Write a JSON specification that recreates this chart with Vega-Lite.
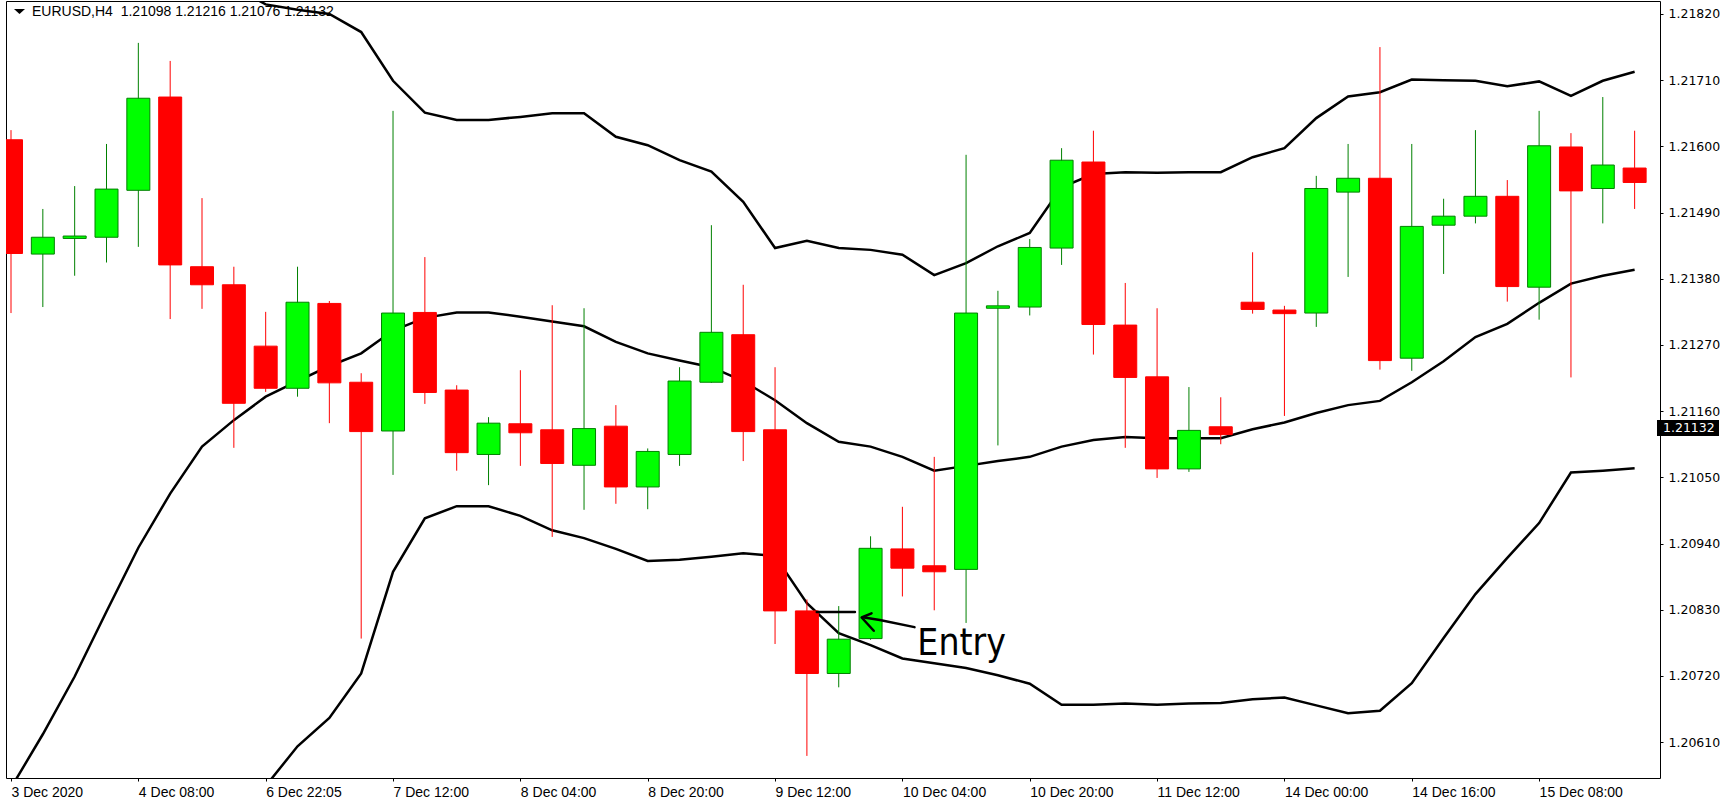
{
  "$schema": "https://vega.github.io/schema/vega-lite/v6.json",
  "width": 1654,
  "height": 777,
  "autosize": {"type": "none"},
  "padding": {"left": 6, "top": 1, "right": 73, "bottom": 32},
  "background": "white",
  "config": {
    "view": {"stroke": "#000000", "strokeWidth": 1},
    "axisX": {"labelAlign": "left", "labelBaseline": "top", "labelPadding": 4, "labelFont": "Liberation Sans", "labelFontSize": 14, "labelColor": "#000000", "tickSize": 3, "tickColor": "#000000", "domain": false, "grid": false, "labelFlush": false, "labelOverlap": false},
    "axisY": {"labelFont": "DejaVu Sans", "labelFontSize": 12.5, "labelColor": "#000000", "labelPadding": 5, "tickSize": 3, "tickColor": "#000000", "domain": false, "grid": false, "labelFlush": false, "labelOverlap": false}
  },
  "datasets": {
    "candles": [
      {"i":0,"o":1.21611,"h":1.21627,"l":1.21323,"c":1.21422,"d":"down"},
      {"i":1,"o":1.21421,"h":1.21496,"l":1.21333,"c":1.21449,"d":"up"},
      {"i":2,"o":1.21447,"h":1.21534,"l":1.21385,"c":1.21451,"d":"up"},
      {"i":3,"o":1.21449,"h":1.21604,"l":1.21407,"c":1.21529,"d":"up"},
      {"i":4,"o":1.21527,"h":1.21772,"l":1.21433,"c":1.21680,"d":"up"},
      {"i":5,"o":1.21682,"h":1.21742,"l":1.21313,"c":1.21403,"d":"down"},
      {"i":6,"o":1.21400,"h":1.21514,"l":1.21330,"c":1.21370,"d":"down"},
      {"i":7,"o":1.21370,"h":1.21400,"l":1.21099,"c":1.21173,"d":"down"},
      {"i":8,"o":1.21268,"h":1.21325,"l":1.21192,"c":1.21198,"d":"down"},
      {"i":9,"o":1.21198,"h":1.21400,"l":1.21184,"c":1.21341,"d":"up"},
      {"i":10,"o":1.21339,"h":1.21343,"l":1.21140,"c":1.21207,"d":"down"},
      {"i":11,"o":1.21208,"h":1.21223,"l":1.20782,"c":1.21126,"d":"down"},
      {"i":12,"o":1.21127,"h":1.21659,"l":1.21054,"c":1.21323,"d":"up"},
      {"i":13,"o":1.21324,"h":1.21416,"l":1.21172,"c":1.21191,"d":"down"},
      {"i":14,"o":1.21195,"h":1.21203,"l":1.21061,"c":1.21091,"d":"down"},
      {"i":15,"o":1.21088,"h":1.21150,"l":1.21037,"c":1.21140,"d":"up"},
      {"i":16,"o":1.21139,"h":1.21228,"l":1.21069,"c":1.21124,"d":"down"},
      {"i":17,"o":1.21129,"h":1.21336,"l":1.20951,"c":1.21073,"d":"down"},
      {"i":18,"o":1.21070,"h":1.21331,"l":1.20996,"c":1.21131,"d":"up"},
      {"i":19,"o":1.21135,"h":1.21170,"l":1.21006,"c":1.21034,"d":"down"},
      {"i":20,"o":1.21034,"h":1.21098,"l":1.20997,"c":1.21093,"d":"up"},
      {"i":21,"o":1.21088,"h":1.21233,"l":1.21069,"c":1.21210,"d":"up"},
      {"i":22,"o":1.21208,"h":1.21469,"l":1.21207,"c":1.21291,"d":"up"},
      {"i":23,"o":1.21287,"h":1.21370,"l":1.21077,"c":1.21126,"d":"down"},
      {"i":24,"o":1.21129,"h":1.21233,"l":1.20773,"c":1.20828,"d":"down"},
      {"i":25,"o":1.20828,"h":1.20847,"l":1.20587,"c":1.20724,"d":"down"},
      {"i":26,"o":1.20724,"h":1.20836,"l":1.20701,"c":1.20781,"d":"up"},
      {"i":27,"o":1.20782,"h":1.20952,"l":1.20780,"c":1.20932,"d":"up"},
      {"i":28,"o":1.20931,"h":1.21001,"l":1.20852,"c":1.20899,"d":"down"},
      {"i":29,"o":1.20903,"h":1.21084,"l":1.20829,"c":1.20893,"d":"down"},
      {"i":30,"o":1.20897,"h":1.21586,"l":1.20808,"c":1.21323,"d":"up"},
      {"i":31,"o":1.21331,"h":1.21360,"l":1.21103,"c":1.21335,"d":"up"},
      {"i":32,"o":1.21333,"h":1.21446,"l":1.21319,"c":1.21432,"d":"up"},
      {"i":33,"o":1.21431,"h":1.21597,"l":1.21403,"c":1.21577,"d":"up"},
      {"i":34,"o":1.21574,"h":1.21626,"l":1.21254,"c":1.21304,"d":"down"},
      {"i":35,"o":1.21303,"h":1.21373,"l":1.21099,"c":1.21216,"d":"down"},
      {"i":36,"o":1.21217,"h":1.21331,"l":1.21049,"c":1.21064,"d":"down"},
      {"i":37,"o":1.21064,"h":1.21200,"l":1.21059,"c":1.21128,"d":"up"},
      {"i":38,"o":1.21134,"h":1.21183,"l":1.21105,"c":1.21121,"d":"down"},
      {"i":39,"o":1.21341,"h":1.21424,"l":1.21322,"c":1.21329,"d":"down"},
      {"i":40,"o":1.21328,"h":1.21335,"l":1.21152,"c":1.21322,"d":"down"},
      {"i":41,"o":1.21323,"h":1.21551,"l":1.21300,"c":1.21530,"d":"up"},
      {"i":42,"o":1.21524,"h":1.21604,"l":1.21383,"c":1.21547,"d":"up"},
      {"i":43,"o":1.21547,"h":1.21765,"l":1.21229,"c":1.21244,"d":"down"},
      {"i":44,"o":1.21248,"h":1.21604,"l":1.21227,"c":1.21467,"d":"up"},
      {"i":45,"o":1.21469,"h":1.21513,"l":1.21388,"c":1.21484,"d":"up"},
      {"i":46,"o":1.21484,"h":1.21627,"l":1.21472,"c":1.21517,"d":"up"},
      {"i":47,"o":1.21517,"h":1.21544,"l":1.21342,"c":1.21367,"d":"down"},
      {"i":48,"o":1.21366,"h":1.21659,"l":1.21312,"c":1.21601,"d":"up"},
      {"i":49,"o":1.21599,"h":1.21622,"l":1.21216,"c":1.21526,"d":"down"},
      {"i":50,"o":1.21530,"h":1.21682,"l":1.21472,"c":1.21569,"d":"up"},
      {"i":51,"o":1.21564,"h":1.21626,"l":1.21496,"c":1.21540,"d":"down"}
    ],
    "bands": [
      {"i":0,"up":null,"mid":1.20534,"lo":null},
      {"i":1,"up":null,"mid":1.20623,"lo":null},
      {"i":2,"up":null,"mid":1.20719,"lo":null},
      {"i":3,"up":null,"mid":1.20827,"lo":null},
      {"i":4,"up":null,"mid":1.20933,"lo":null},
      {"i":5,"up":null,"mid":1.21023,"lo":null},
      {"i":6,"up":null,"mid":1.21101,"lo":null},
      {"i":7,"up":1.21865,"mid":1.21145,"lo":null},
      {"i":8,"up":1.21836,"mid":1.21184,"lo":1.20537},
      {"i":9,"up":1.21827,"mid":1.21210,"lo":1.20603},
      {"i":10,"up":1.21820,"mid":1.21235,"lo":1.20650},
      {"i":11,"up":1.21790,"mid":1.21256,"lo":1.20724},
      {"i":12,"up":1.21709,"mid":1.21294,"lo":1.20893},
      {"i":13,"up":1.21656,"mid":1.21315,"lo":1.20982},
      {"i":14,"up":1.21644,"mid":1.21324,"lo":1.21002},
      {"i":15,"up":1.21644,"mid":1.21324,"lo":1.21002},
      {"i":16,"up":1.21649,"mid":1.21317,"lo":1.20986},
      {"i":17,"up":1.21655,"mid":1.21309,"lo":1.20962},
      {"i":18,"up":1.21655,"mid":1.21301,"lo":1.20949},
      {"i":19,"up":1.21616,"mid":1.21275,"lo":1.20931},
      {"i":20,"up":1.21602,"mid":1.21256,"lo":1.20911},
      {"i":21,"up":1.21577,"mid":1.21244,"lo":1.20913},
      {"i":22,"up":1.21558,"mid":1.21233,"lo":1.20918},
      {"i":23,"up":1.21508,"mid":1.21210,"lo":1.20924},
      {"i":24,"up":1.21431,"mid":1.21178,"lo":1.20919},
      {"i":25,"up":1.21443,"mid":1.21140,"lo":1.20841},
      {"i":26,"up":1.21431,"mid":1.21109,"lo":1.20791},
      {"i":27,"up":1.21428,"mid":1.21101,"lo":1.20771},
      {"i":28,"up":1.21420,"mid":1.21084,"lo":1.20749},
      {"i":29,"up":1.21386,"mid":1.21061,"lo":1.20741},
      {"i":30,"up":1.21406,"mid":1.21069,"lo":1.20733},
      {"i":31,"up":1.21434,"mid":1.21077,"lo":1.20721},
      {"i":32,"up":1.21456,"mid":1.21084,"lo":1.20707},
      {"i":33,"up":1.21532,"mid":1.21101,"lo":1.20672},
      {"i":34,"up":1.21554,"mid":1.21112,"lo":1.20672},
      {"i":35,"up":1.21557,"mid":1.21117,"lo":1.20674},
      {"i":36,"up":1.21556,"mid":1.21115,"lo":1.20672},
      {"i":37,"up":1.21557,"mid":1.21115,"lo":1.20674},
      {"i":38,"up":1.21557,"mid":1.21115,"lo":1.20675},
      {"i":39,"up":1.21582,"mid":1.21130,"lo":1.20681},
      {"i":40,"up":1.21597,"mid":1.21141,"lo":1.20684},
      {"i":41,"up":1.21647,"mid":1.21157,"lo":1.20671},
      {"i":42,"up":1.21683,"mid":1.21170,"lo":1.20658},
      {"i":43,"up":1.21690,"mid":1.21177,"lo":1.20662},
      {"i":44,"up":1.21711,"mid":1.21208,"lo":1.20708},
      {"i":45,"up":1.21710,"mid":1.21243,"lo":1.20783},
      {"i":46,"up":1.21709,"mid":1.21283,"lo":1.20856},
      {"i":47,"up":1.21700,"mid":1.21305,"lo":1.20916},
      {"i":48,"up":1.21708,"mid":1.21340,"lo":1.20974},
      {"i":49,"up":1.21684,"mid":1.21372,"lo":1.21058},
      {"i":50,"up":1.21709,"mid":1.21385,"lo":1.21061},
      {"i":51,"up":1.21724,"mid":1.21395,"lo":1.21065}
    ],
    "entry": [
      {"s":"level","k":0,"i":25.31,"p":1.20826},
      {"s":"level","k":1,"i":26.51,"p":1.20826},
      {"s":"shaft","k":0,"i":26.80,"p":1.20817},
      {"s":"shaft","k":1,"i":27.29,"p":1.20813},
      {"s":"shaft","k":2,"i":28.38,"p":1.20801},
      {"s":"head","k":0,"i":27.03,"p":1.20824},
      {"s":"head","k":1,"i":26.72,"p":1.20817},
      {"s":"head","k":2,"i":27.10,"p":1.20795}
    ],
    "notes": [{"i":28.47,"p":1.20755,"t":"Entry"}],
    "header": [{"i":0,"p":1.218416,"t":"EURUSD,H4\u00a0 1.21098 1.21216 1.21076 1.21132"}],
    "last": [{"i":51.64,"p":1.21132,"t":"1.21132"}]
  },
  "layer": [
    {
      "data": {"name": "bands"},
      "mark": {"type": "line", "color": "#000000", "strokeWidth": 2.5, "clip": true},
      "encoding": {
        "x": {"field": "i", "type": "quantitative", "title": null, "scale": {"domain": [0, 51.64], "nice": false, "zero": false}, "axis": {"values": [0, 4, 8, 12, 16, 20, 24, 28, 32, 36, 40, 44, 48], "labelExpr": "['3 Dec 2020','4 Dec 08:00','6 Dec 22:05','7 Dec 12:00','8 Dec 04:00','8 Dec 20:00','9 Dec 12:00','10 Dec 04:00','10 Dec 20:00','11 Dec 12:00','14 Dec 00:00','14 Dec 16:00','15 Dec 08:00'][round(datum.value / 4)]", "orient": "bottom", "title": null}},
        "y": {"field": "up", "type": "quantitative", "title": null, "scale": {"domain": [1.205503, 1.218416], "nice": false, "zero": false}, "axis": {"orient": "right", "values": [1.2061, 1.2072, 1.2083, 1.2094, 1.2105, 1.2116, 1.2127, 1.2138, 1.2149, 1.2160, 1.2171, 1.2182], "format": ".5f", "title": null}}
      }
    },
    {
      "data": {"name": "bands"},
      "mark": {"type": "line", "color": "#000000", "strokeWidth": 2.5, "clip": true},
      "encoding": {
        "x": {"field": "i", "type": "quantitative", "title": null, "scale": {"domain": [0, 51.64], "nice": false, "zero": false}, "axis": {"values": [0, 4, 8, 12, 16, 20, 24, 28, 32, 36, 40, 44, 48], "labelExpr": "['3 Dec 2020','4 Dec 08:00','6 Dec 22:05','7 Dec 12:00','8 Dec 04:00','8 Dec 20:00','9 Dec 12:00','10 Dec 04:00','10 Dec 20:00','11 Dec 12:00','14 Dec 00:00','14 Dec 16:00','15 Dec 08:00'][round(datum.value / 4)]", "orient": "bottom", "title": null}},
        "y": {"field": "mid", "type": "quantitative", "title": null, "scale": {"domain": [1.205503, 1.218416], "nice": false, "zero": false}, "axis": {"orient": "right", "values": [1.2061, 1.2072, 1.2083, 1.2094, 1.2105, 1.2116, 1.2127, 1.2138, 1.2149, 1.2160, 1.2171, 1.2182], "format": ".5f", "title": null}}
      }
    },
    {
      "data": {"name": "bands"},
      "mark": {"type": "line", "color": "#000000", "strokeWidth": 2.5, "clip": true},
      "encoding": {
        "x": {"field": "i", "type": "quantitative", "title": null, "scale": {"domain": [0, 51.64], "nice": false, "zero": false}, "axis": {"values": [0, 4, 8, 12, 16, 20, 24, 28, 32, 36, 40, 44, 48], "labelExpr": "['3 Dec 2020','4 Dec 08:00','6 Dec 22:05','7 Dec 12:00','8 Dec 04:00','8 Dec 20:00','9 Dec 12:00','10 Dec 04:00','10 Dec 20:00','11 Dec 12:00','14 Dec 00:00','14 Dec 16:00','15 Dec 08:00'][round(datum.value / 4)]", "orient": "bottom", "title": null}},
        "y": {"field": "lo", "type": "quantitative", "title": null, "scale": {"domain": [1.205503, 1.218416], "nice": false, "zero": false}, "axis": {"orient": "right", "values": [1.2061, 1.2072, 1.2083, 1.2094, 1.2105, 1.2116, 1.2127, 1.2138, 1.2149, 1.2160, 1.2171, 1.2182], "format": ".5f", "title": null}}
      }
    },
    {
      "data": {"name": "candles"},
      "mark": {"type": "rule", "strokeWidth": 1, "clip": true},
      "encoding": {
        "x": {"field": "i", "type": "quantitative", "title": null, "scale": {"domain": [0, 51.64], "nice": false, "zero": false}, "axis": {"values": [0, 4, 8, 12, 16, 20, 24, 28, 32, 36, 40, 44, 48], "labelExpr": "['3 Dec 2020','4 Dec 08:00','6 Dec 22:05','7 Dec 12:00','8 Dec 04:00','8 Dec 20:00','9 Dec 12:00','10 Dec 04:00','10 Dec 20:00','11 Dec 12:00','14 Dec 00:00','14 Dec 16:00','15 Dec 08:00'][round(datum.value / 4)]", "orient": "bottom", "title": null}},
        "y": {"field": "l", "type": "quantitative", "title": null, "scale": {"domain": [1.205503, 1.218416], "nice": false, "zero": false}, "axis": {"orient": "right", "values": [1.2061, 1.2072, 1.2083, 1.2094, 1.2105, 1.2116, 1.2127, 1.2138, 1.2149, 1.2160, 1.2171, 1.2182], "format": ".5f", "title": null}},
        "y2": {"field": "h"},
        "stroke": {"field": "d", "type": "nominal", "scale": {"domain": ["up", "down"], "range": ["#008000", "#ff0000"]}, "legend": null}
      }
    },
    {
      "data": {"name": "candles"},
      "mark": {"type": "bar", "width": 23, "strokeWidth": 1, "opacity": 1, "fillOpacity": 1, "clip": true},
      "encoding": {
        "x": {"field": "i", "type": "quantitative", "title": null, "scale": {"domain": [0, 51.64], "nice": false, "zero": false}, "axis": {"values": [0, 4, 8, 12, 16, 20, 24, 28, 32, 36, 40, 44, 48], "labelExpr": "['3 Dec 2020','4 Dec 08:00','6 Dec 22:05','7 Dec 12:00','8 Dec 04:00','8 Dec 20:00','9 Dec 12:00','10 Dec 04:00','10 Dec 20:00','11 Dec 12:00','14 Dec 00:00','14 Dec 16:00','15 Dec 08:00'][round(datum.value / 4)]", "orient": "bottom", "title": null}},
        "y": {"field": "o", "type": "quantitative", "title": null, "scale": {"domain": [1.205503, 1.218416], "nice": false, "zero": false}, "axis": {"orient": "right", "values": [1.2061, 1.2072, 1.2083, 1.2094, 1.2105, 1.2116, 1.2127, 1.2138, 1.2149, 1.2160, 1.2171, 1.2182], "format": ".5f", "title": null}},
        "y2": {"field": "c"},
        "fill": {"field": "d", "type": "nominal", "scale": {"domain": ["up", "down"], "range": ["#00ff00", "#ff0000"]}, "legend": null},
        "stroke": {"field": "d", "type": "nominal", "scale": {"domain": ["up", "down"], "range": ["#008000", "#ff0000"]}, "legend": null}
      }
    },
    {
      "data": {"name": "entry"},
      "mark": {"type": "line", "color": "#000000", "strokeWidth": 2.5, "strokeCap": "round", "strokeJoin": "round", "clip": true},
      "encoding": {
        "x": {"field": "i", "type": "quantitative", "title": null, "scale": {"domain": [0, 51.64], "nice": false, "zero": false}, "axis": {"values": [0, 4, 8, 12, 16, 20, 24, 28, 32, 36, 40, 44, 48], "labelExpr": "['3 Dec 2020','4 Dec 08:00','6 Dec 22:05','7 Dec 12:00','8 Dec 04:00','8 Dec 20:00','9 Dec 12:00','10 Dec 04:00','10 Dec 20:00','11 Dec 12:00','14 Dec 00:00','14 Dec 16:00','15 Dec 08:00'][round(datum.value / 4)]", "orient": "bottom", "title": null}},
        "y": {"field": "p", "type": "quantitative", "title": null, "scale": {"domain": [1.205503, 1.218416], "nice": false, "zero": false}, "axis": {"orient": "right", "values": [1.2061, 1.2072, 1.2083, 1.2094, 1.2105, 1.2116, 1.2127, 1.2138, 1.2149, 1.2160, 1.2171, 1.2182], "format": ".5f", "title": null}},
        "detail": {"field": "s"},
        "order": {"field": "k"}
      }
    },
    {
      "data": {"name": "notes"},
      "mark": {"type": "text", "align": "left", "baseline": "alphabetic", "font": "DejaVu Sans Condensed, DejaVu Sans", "fontSize": 37, "color": "#000000"},
      "encoding": {
        "x": {"field": "i", "type": "quantitative", "title": null, "scale": {"domain": [0, 51.64], "nice": false, "zero": false}, "axis": {"values": [0, 4, 8, 12, 16, 20, 24, 28, 32, 36, 40, 44, 48], "labelExpr": "['3 Dec 2020','4 Dec 08:00','6 Dec 22:05','7 Dec 12:00','8 Dec 04:00','8 Dec 20:00','9 Dec 12:00','10 Dec 04:00','10 Dec 20:00','11 Dec 12:00','14 Dec 00:00','14 Dec 16:00','15 Dec 08:00'][round(datum.value / 4)]", "orient": "bottom", "title": null}},
        "y": {"field": "p", "type": "quantitative", "title": null, "scale": {"domain": [1.205503, 1.218416], "nice": false, "zero": false}, "axis": {"orient": "right", "values": [1.2061, 1.2072, 1.2083, 1.2094, 1.2105, 1.2116, 1.2127, 1.2138, 1.2149, 1.2160, 1.2171, 1.2182], "format": ".5f", "title": null}},
        "text": {"field": "t"}
      }
    },
    {
      "data": {"name": "header"},
      "mark": {"type": "text", "align": "left", "baseline": "middle", "dx": 21, "dy": 11, "font": "Liberation Sans", "fontSize": 14, "color": "#000000"},
      "encoding": {
        "x": {"field": "i", "type": "quantitative", "title": null, "scale": {"domain": [0, 51.64], "nice": false, "zero": false}, "axis": {"values": [0, 4, 8, 12, 16, 20, 24, 28, 32, 36, 40, 44, 48], "labelExpr": "['3 Dec 2020','4 Dec 08:00','6 Dec 22:05','7 Dec 12:00','8 Dec 04:00','8 Dec 20:00','9 Dec 12:00','10 Dec 04:00','10 Dec 20:00','11 Dec 12:00','14 Dec 00:00','14 Dec 16:00','15 Dec 08:00'][round(datum.value / 4)]", "orient": "bottom", "title": null}},
        "y": {"field": "p", "type": "quantitative", "title": null, "scale": {"domain": [1.205503, 1.218416], "nice": false, "zero": false}, "axis": {"orient": "right", "values": [1.2061, 1.2072, 1.2083, 1.2094, 1.2105, 1.2116, 1.2127, 1.2138, 1.2149, 1.2160, 1.2171, 1.2182], "format": ".5f", "title": null}},
        "text": {"field": "t"}
      }
    },
    {
      "data": {"name": "header"},
      "mark": {"type": "point", "shape": "M-1,-0.45L1,-0.45L0,0.45Z", "size": 121, "filled": true, "color": "#000000", "opacity": 1, "xOffset": 8.5, "yOffset": 10.5},
      "encoding": {
        "x": {"field": "i", "type": "quantitative", "title": null, "scale": {"domain": [0, 51.64], "nice": false, "zero": false}, "axis": {"values": [0, 4, 8, 12, 16, 20, 24, 28, 32, 36, 40, 44, 48], "labelExpr": "['3 Dec 2020','4 Dec 08:00','6 Dec 22:05','7 Dec 12:00','8 Dec 04:00','8 Dec 20:00','9 Dec 12:00','10 Dec 04:00','10 Dec 20:00','11 Dec 12:00','14 Dec 00:00','14 Dec 16:00','15 Dec 08:00'][round(datum.value / 4)]", "orient": "bottom", "title": null}},
        "y": {"field": "p", "type": "quantitative", "title": null, "scale": {"domain": [1.205503, 1.218416], "nice": false, "zero": false}, "axis": {"orient": "right", "values": [1.2061, 1.2072, 1.2083, 1.2094, 1.2105, 1.2116, 1.2127, 1.2138, 1.2149, 1.2160, 1.2171, 1.2182], "format": ".5f", "title": null}}
      }
    },
    {
      "data": {"name": "last"},
      "mark": {"type": "rect", "color": "#000000", "clip": false, "xOffset": 2, "x2Offset": 64, "yOffset": -8, "y2Offset": 8},
      "encoding": {
        "x": {"field": "i", "type": "quantitative", "title": null, "scale": {"domain": [0, 51.64], "nice": false, "zero": false}, "axis": {"values": [0, 4, 8, 12, 16, 20, 24, 28, 32, 36, 40, 44, 48], "labelExpr": "['3 Dec 2020','4 Dec 08:00','6 Dec 22:05','7 Dec 12:00','8 Dec 04:00','8 Dec 20:00','9 Dec 12:00','10 Dec 04:00','10 Dec 20:00','11 Dec 12:00','14 Dec 00:00','14 Dec 16:00','15 Dec 08:00'][round(datum.value / 4)]", "orient": "bottom", "title": null}},
        "x2": {"field": "i"},
        "y": {"field": "p", "type": "quantitative", "title": null, "scale": {"domain": [1.205503, 1.218416], "nice": false, "zero": false}, "axis": {"orient": "right", "values": [1.2061, 1.2072, 1.2083, 1.2094, 1.2105, 1.2116, 1.2127, 1.2138, 1.2149, 1.2160, 1.2171, 1.2182], "format": ".5f", "title": null}},
        "y2": {"field": "p"}
      }
    },
    {
      "data": {"name": "last"},
      "mark": {"type": "text", "align": "left", "baseline": "middle", "dx": 8, "font": "DejaVu Sans", "fontSize": 12.5, "color": "#ffffff", "clip": false},
      "encoding": {
        "x": {"field": "i", "type": "quantitative", "title": null, "scale": {"domain": [0, 51.64], "nice": false, "zero": false}, "axis": {"values": [0, 4, 8, 12, 16, 20, 24, 28, 32, 36, 40, 44, 48], "labelExpr": "['3 Dec 2020','4 Dec 08:00','6 Dec 22:05','7 Dec 12:00','8 Dec 04:00','8 Dec 20:00','9 Dec 12:00','10 Dec 04:00','10 Dec 20:00','11 Dec 12:00','14 Dec 00:00','14 Dec 16:00','15 Dec 08:00'][round(datum.value / 4)]", "orient": "bottom", "title": null}},
        "y": {"field": "p", "type": "quantitative", "title": null, "scale": {"domain": [1.205503, 1.218416], "nice": false, "zero": false}, "axis": {"orient": "right", "values": [1.2061, 1.2072, 1.2083, 1.2094, 1.2105, 1.2116, 1.2127, 1.2138, 1.2149, 1.2160, 1.2171, 1.2182], "format": ".5f", "title": null}},
        "text": {"field": "t"}
      }
    }
  ]
}
